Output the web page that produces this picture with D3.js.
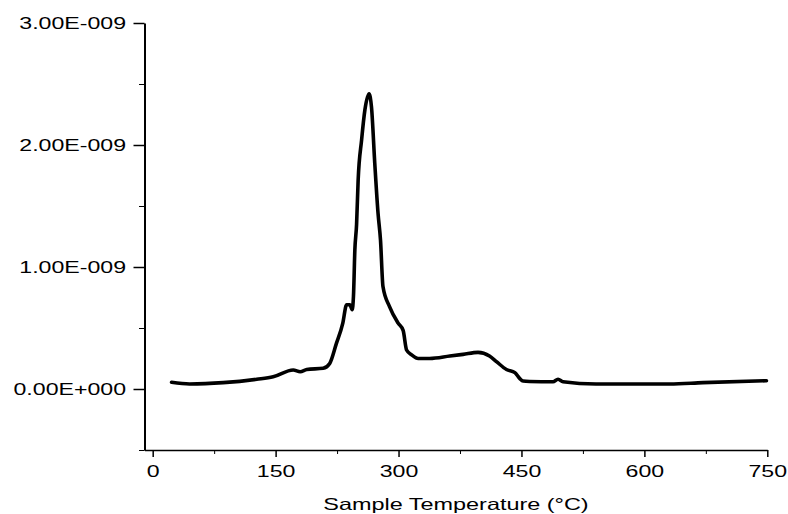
<!DOCTYPE html>
<html>
<head>
<meta charset="utf-8">
<script src="https://cdn.jsdelivr.net/npm/d3@7"></script>
<style>
  body { margin: 0; background: #fff; }
  text { font-family: "Liberation Sans", Arial, sans-serif; fill: #000; }
</style>
</head>
<body>
<div id="chart"></div>
<script>
/* CONSTANTS AND GLOBALS */
const width = 788,
  height = 514,
  stretch = 1.42, // text in the original is stretched sideways
  unit = 1e-9;

// sample temperature (°C) and signal (in units of 1e-9)
const temps = [23, 45, 86, 127, 147, 171.5, 180, 188, 208, 216, 224, 232, 236.6, 240.6, 243.4,
  245, 246.7, 248.8, 250.7, 254.9, 259, 264, 267, 271, 275, 278, 281, 289, 299.5, 305.6,
  309.8, 316, 324, 338, 362.6, 378.8, 397, 411, 419.5, 431.7, 442, 448, 452, 460, 488.5,
  494.6, 500.7, 541, 631, 671.5, 749];
const signal = [0.055, 0.041, 0.052, 0.08, 0.10, 0.156, 0.142, 0.16, 0.17, 0.21, 0.37, 0.54, 0.69, 0.69, 0.65,
  0.76, 1.14, 1.35, 1.71, 2.04, 2.29, 2.42, 2.31, 1.85, 1.44, 1.22, 0.84, 0.675, 0.54, 0.48,
  0.32, 0.28, 0.25, 0.25, 0.27, 0.284, 0.30, 0.27, 0.224, 0.16, 0.134, 0.085, 0.065, 0.062, 0.06,
  0.08, 0.06, 0.041, 0.041, 0.052, 0.068];

const xTicks = [0, 150, 300, 450, 600, 750];
const xMinorTicks = [75, 225, 375, 525, 675];
const yTicks = [0, 1, 2, 3];
const yTickLabels = ["0.00E+000", "1.00E-009", "2.00E-009", "3.00E-009"];
const yMinorTicks = [-0.5, 0.5, 1.5, 2.5];
const xTitle = "Sample Temperature (°C)";

const data = temps.map((t, i) => ({ temp: t, value: signal[i] * unit }));

/* SCALES */
const xScale = d3.scaleLinear().domain([-10, 750]).range([144.5, 767.3]);
const yScale = d3.scaleLinear().domain([-0.5 * unit, 3 * unit]).range([450, 23]);

const svg = d3.select("#chart")
  .append("svg")
  .attr("width", width)
  .attr("height", height);

/* AXES */
// minor ticks first so the major ones sit on top
svg.append("g")
  .attr("transform", "translate(0,450)")
  .call(d3.axisBottom(xScale).tickValues(xMinorTicks).tickSize(4).tickSizeOuter(0).tickFormat(""))
  .call(g => g.select(".domain").remove());

svg.append("g")
  .attr("transform", "translate(144.5,0)")
  .call(d3.axisLeft(yScale).tickValues(yMinorTicks.map(v => v * unit)).tickSize(5.5).tickSizeOuter(0).tickFormat(""))
  .call(g => g.select(".domain").remove());

const xAxis = svg.append("g")
  .attr("class", "x-axis")
  .attr("transform", "translate(0,450)")
  .call(d3.axisBottom(xScale).tickValues(xTicks).tickSize(7).tickSizeOuter(0));

xAxis.select(".domain").attr("stroke-width", 1.5);
xAxis.selectAll(".tick line").attr("stroke-width", 1.5);
xAxis.selectAll(".tick text")
  .attr("font-size", 16.3)
  .attr("y", 15.7)
  .attr("transform", `scale(${stretch},1)`);

const yAxis = svg.append("g")
  .attr("class", "y-axis")
  .attr("transform", "translate(144.5,0)")
  .call(d3.axisLeft(yScale)
    .tickValues(yTicks.map(v => v * unit))
    .tickSize(11)
    .tickSizeOuter(0)
    .tickFormat((d, i) => yTickLabels[i]));

yAxis.select(".domain").attr("stroke-width", 2);
yAxis.selectAll(".tick line").attr("stroke-width", 1.5);
yAxis.selectAll(".tick text")
  .attr("font-size", 16.3)
  .attr("x", -18.5 / stretch)
  .attr("transform", `scale(${stretch},1)`);

svg.selectAll(".tick line, .domain").attr("stroke", "#000");

// axis title
svg.append("text")
  .attr("x", 456 / stretch)
  .attr("y", 510)
  .attr("text-anchor", "middle")
  .attr("font-size", 16.5)
  .attr("transform", `scale(${stretch},1)`)
  .text(xTitle);

/* LINE */
const lineFunc = d3.line()
  .x(d => xScale(d.temp))
  .y(d => yScale(d.value))
  .curve(d3.curveMonotoneX);

svg.append("path")
  .datum(data)
  .attr("fill", "none")
  .attr("stroke", "#000")
  .attr("stroke-width", 3.6)
  .attr("stroke-linejoin", "round")
  .attr("stroke-linecap", "round")
  .attr("d", lineFunc);
</script>
</body>
</html>
